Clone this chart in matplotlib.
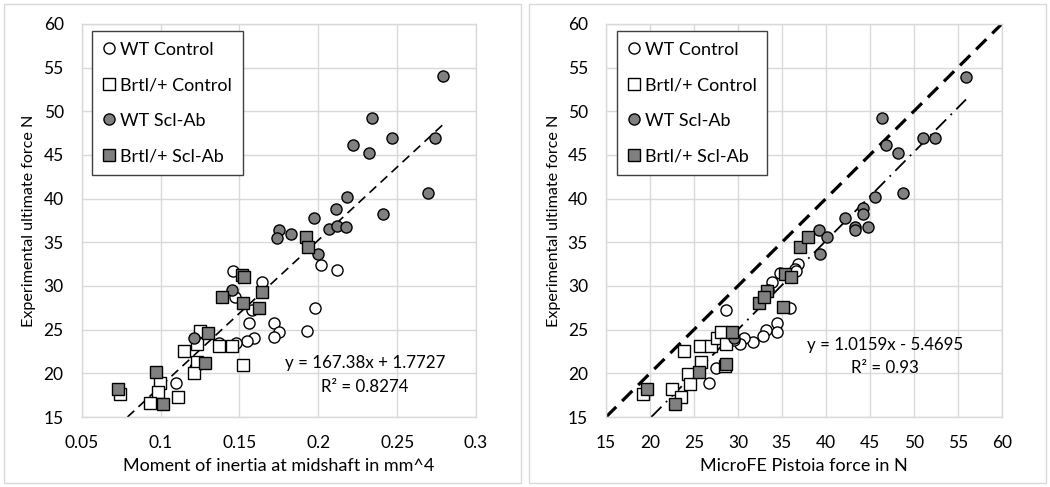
import numpy as np
import matplotlib.pyplot as plt
from matplotlib.patches import Rectangle

plt.rcParams['font.family'] = ['Lato', 'DejaVu Sans']

# ---- left panel: moment of inertia vs experimental force ----
wt_ctrl_moi = [0.146, 0.164, 0.2015, 0.212, 0.147, 0.158, 0.198, 0.156, 0.172, 0.175,
               0.172, 0.193, 0.159, 0.155, 0.148, 0.137, 0.110, 0.122]
wt_ctrl_force_l = [31.7, 30.5, 32.4, 31.8, 28.7, 27.3, 27.5, 25.8, 25.8, 24.7,
                   24.2, 24.8, 24.0, 23.65, 23.5, 23.5, 18.9, 20.6]

brtl_ctrl_moi = [0.125, 0.123, 0.115, 0.123, 0.121, 0.0996, 0.0986, 0.0743, 0.0933,
                 0.111, 0.137, 0.1455, 0.152]
brtl_ctrl_force_l = [24.8, 23.4, 22.55, 21.3, 20.0, 18.9, 17.9, 17.6, 16.6,
                     17.3, 23.1, 23.1, 20.9]

wt_scl_moi = [0.279, 0.234, 0.247, 0.274, 0.222, 0.232, 0.2696, 0.218, 0.241, 0.211,
              0.197, 0.2066, 0.212, 0.2174, 0.175, 0.174, 0.183, 0.200, 0.1455, 0.121]
wt_scl_force_l = [54.0, 49.2, 47.0, 47.0, 46.1, 45.2, 40.6, 40.2, 38.3, 38.8,
                  37.8, 36.5, 36.9, 36.8, 36.4, 35.55, 35.9, 33.7, 29.5, 24.0]

brtl_scl_moi = [0.1924, 0.1935, 0.1519, 0.1531, 0.1645, 0.1388, 0.1523, 0.1626,
                0.1303, 0.1282, 0.0971, 0.0732, 0.1017]
brtl_scl_force_l = [35.6, 34.45, 31.3, 31.0, 29.3, 28.7, 28.1, 27.5,
                    24.65, 21.15, 20.1, 18.2, 16.45]

fit_left = (167.38, 1.7727)
r2_left = 0.8274

# ---- right panel: microFE force vs experimental force ----
wt_ctrl_fe = [28.6, 33.84, 34.8, 36.87, 36.5, 35.9, 34.4, 34.47, 33.2, 32.8,
              31.76, 30.7, 30.24, 29.5, 27.5, 26.75, 36.6]
wt_ctrl_force_r = [27.25, 30.5, 31.5, 32.5, 32.0, 27.45, 25.8, 24.77, 24.96, 24.27,
                   23.6, 24.0, 23.4, 23.8, 20.65, 18.93, 31.7]

brtl_ctrl_fe = [19.2, 22.5, 23.55, 23.9, 25.7, 26.9, 25.8, 24.3, 24.55, 27.6,
                28.1, 28.6, 28.5]
brtl_ctrl_force_r = [17.65, 18.2, 17.3, 22.55, 23.15, 23.1, 21.35, 19.95, 18.8, 24.0,
                     24.75, 23.35, 20.8]

wt_scl_fe = [55.94, 46.39, 51.09, 52.42, 46.8, 48.25, 48.8, 45.6, 44.2, 44.26,
             42.18, 43.3, 44.83, 39.26, 40.1, 39.34, 43.3, 33.4, 29.6]
wt_scl_force_r = [53.97, 49.24, 47.0, 47.0, 46.1, 45.2, 40.6, 40.15, 38.9, 38.3,
                  37.75, 36.8, 36.8, 36.4, 35.57, 33.66, 36.4, 29.5, 24.0]

brtl_scl_fe = [19.63, 22.85, 25.55, 28.6, 29.3, 32.45, 33.27, 33.0, 35.15, 35.4,
               36.05, 37.1, 38.0]
brtl_scl_force_r = [18.2, 16.5, 20.1, 21.1, 24.7, 28.1, 29.4, 28.7, 27.6, 31.4,
                    31.0, 34.45, 35.6]

fit_right = (1.0159, -5.4695)
r2_right = 0.93
identity_range = [15, 60]

x_ticks_left = [0.05, 0.1, 0.15, 0.2, 0.25, 0.3]
x_labels_left = ['0.05', '0.1', '0.15', '0.2', '0.25', '0.3']
x_ticks_right = [15, 20, 25, 30, 35, 40, 45, 50, 55, 60]
y_ticks = [15, 20, 25, 30, 35, 40, 45, 50, 55, 60]

labels = ['WT Control', 'Brtl/+ Control', 'WT Scl-Ab', 'Brtl/+ Scl-Ab']
grey = '#808080'
grid_c = '#d9d9d9'

fig = plt.figure(figsize=(10.5, 4.87), dpi=100)

# chart area borders
for x0 in [4, 529]:
    fig.patches.append(Rectangle((x0 / 1050, 4 / 487), 517 / 1050, 479 / 487,
                                 transform=fig.transFigure, fill=False,
                                 edgecolor=grid_c, linewidth=1))

ax1 = fig.add_axes([81.7 / 1050, 1 - 417 / 487, 394.3 / 1050, 393 / 487])
ax2 = fig.add_axes([606 / 1050, 1 - 417 / 487, 395.7 / 1050, 393 / 487])


def scatter_groups(ax, xs, ys):
    styles = [('o', 'white'), ('s', 'white'), ('o', grey), ('s', grey)]
    for (m, fc), x, y, lab in zip(styles, xs, ys, labels):
        ax.plot(x, y, linestyle='none', marker=m, markersize=8, markerfacecolor=fc,
                markeredgecolor='black', markeredgewidth=1, label=lab, zorder=3)


def style_axes(ax):
    ax.set_ylim(15, 60)
    ax.set_yticks(y_ticks)
    ax.grid(True, color=grid_c, linewidth=1)
    ax.set_axisbelow(True)
    for s in ax.spines.values():
        s.set_color(grid_c)
        s.set_linewidth(1)
    ax.tick_params(length=0, labelsize=12.5, pad=13)
    ax.set_ylabel('Experimental ultimate force N', fontsize=11.6, labelpad=5)
    leg = ax.legend(loc='upper left', bbox_to_anchor=(0.027, 0.983), borderaxespad=0,
                    fancybox=False, edgecolor='#404040', framealpha=1, fontsize=13,
                    handlelength=0.7, handletextpad=0.25, labelspacing=1.08,
                    borderpad=0.6)
    leg.get_frame().set_linewidth(1)


scatter_groups(ax1, [wt_ctrl_moi, brtl_ctrl_moi, wt_scl_moi, brtl_scl_moi],
               [wt_ctrl_force_l, brtl_ctrl_force_l, wt_scl_force_l, brtl_scl_force_l])
all_moi = np.concatenate([wt_ctrl_moi, brtl_ctrl_moi, wt_scl_moi, brtl_scl_moi])
xs = np.array([(15 - fit_left[1]) / fit_left[0], all_moi.max()])
ax1.plot(xs, fit_left[0] * xs + fit_left[1], color='black', linewidth=1.2,
         linestyle=(0, (5.5, 3.5)), zorder=2)
ax1.set_xlim(0.05, 0.3)
ax1.set_xticks(x_ticks_left)
ax1.set_xticklabels(x_labels_left)
ax1.set_xlabel('Moment of inertia at midshaft in mm^4', fontsize=13, labelpad=5)
style_axes(ax1)
ax1.text(0.718, 0.137, 'y = %.2fx + %.4f' % fit_left, transform=ax1.transAxes,
         ha='center', va='center', fontsize=12.2)
ax1.text(0.718, 0.076, 'R² = %.4f' % r2_left, transform=ax1.transAxes,
         ha='center', va='center', fontsize=12.2)

scatter_groups(ax2, [wt_ctrl_fe, brtl_ctrl_fe, wt_scl_fe, brtl_scl_fe],
               [wt_ctrl_force_r, brtl_ctrl_force_r, wt_scl_force_r, brtl_scl_force_r])
ax2.plot(identity_range, identity_range, color='black', linewidth=2.3,
         linestyle=(0, (4.5, 2.6)), zorder=2)
all_fe = np.concatenate([wt_ctrl_fe, brtl_ctrl_fe, wt_scl_fe, brtl_scl_fe])
xr = np.array([(15 - fit_right[1]) / fit_right[0], all_fe.max()])
ax2.plot(xr, fit_right[0] * xr + fit_right[1], color='black', linewidth=1.3,
         linestyle=(0, (8, 3.5, 1, 3.5)), zorder=2)
ax2.set_xlim(15, 60)
ax2.set_xticks(x_ticks_right)
ax2.set_xlabel('MicroFE Pistoia force in N', fontsize=13, labelpad=5)
style_axes(ax2)
ax2.text(0.705, 0.183, 'y = %.4fx - %.4f' % (fit_right[0], -fit_right[1]),
         transform=ax2.transAxes, ha='center', va='center', fontsize=12.2)
ax2.text(0.705, 0.125, 'R² = %.2f' % r2_right, transform=ax2.transAxes,
         ha='center', va='center', fontsize=12.2)

fig.savefig('out.png', dpi=100)
